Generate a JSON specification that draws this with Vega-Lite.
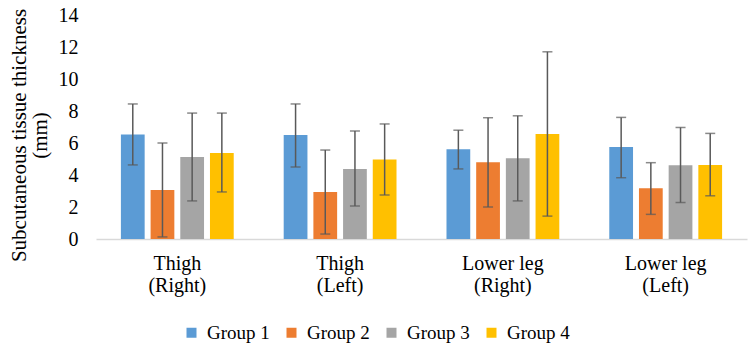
{
  "$schema": "https://vega.github.io/schema/vega-lite/v6.json",
  "autosize": {"type": "none"},
  "width": 651,
  "height": 224,
  "padding": {"left": 96, "top": 15, "right": 3, "bottom": 109},
  "background": "white",
  "config": {
    "view": {"stroke": null},
    "font": "Liberation Serif",
    "axis": {"labelFont": "Liberation Serif", "titleFont": "Liberation Serif", "labelColor": "#000000", "titleColor": "#000000"},
    "axisY": {
      "labelOverlap": false, "labelFlush": false, "labelFontSize": 20, "labelPadding": 18,
      "ticks": false, "domain": false, "grid": false,
      "titleFontSize": 21, "titleFontWeight": "normal", "titlePadding": 8, "titleLineHeight": 21
    },
    "axisX": {
      "labelAngle": 0, "ticks": false, "domainColor": "#D9D9D9", "domainWidth": 1.5,
      "labelFontSize": 20, "labelLineHeight": 22, "labelPadding": 14, "labelBaseline": "top"
    },
    "legend": {"labelFont": "Liberation Serif", "labelFontSize": 19, "labelColor": "#000000"}
  },
  "data": {
    "values": [
      {"site": "Thigh|(Right)", "group": "Group 1", "mean": 6.53, "lo": 4.63, "hi": 8.44},
      {"site": "Thigh|(Right)", "group": "Group 2", "mean": 3.06, "lo": 0.13, "hi": 6.0},
      {"site": "Thigh|(Right)", "group": "Group 3", "mean": 5.12, "lo": 2.38, "hi": 7.87},
      {"site": "Thigh|(Right)", "group": "Group 4", "mean": 5.38, "lo": 2.94, "hi": 7.87},
      {"site": "Thigh|(Left)", "group": "Group 1", "mean": 6.5, "lo": 4.5, "hi": 8.44},
      {"site": "Thigh|(Left)", "group": "Group 2", "mean": 2.94, "lo": 0.31, "hi": 5.56},
      {"site": "Thigh|(Left)", "group": "Group 3", "mean": 4.38, "lo": 2.06, "hi": 6.75},
      {"site": "Thigh|(Left)", "group": "Group 4", "mean": 4.97, "lo": 2.75, "hi": 7.19},
      {"site": "Lower leg|(Right)", "group": "Group 1", "mean": 5.61, "lo": 4.38, "hi": 6.8},
      {"site": "Lower leg|(Right)", "group": "Group 2", "mean": 4.8, "lo": 2.0, "hi": 7.58},
      {"site": "Lower leg|(Right)", "group": "Group 3", "mean": 5.05, "lo": 2.38, "hi": 7.7},
      {"site": "Lower leg|(Right)", "group": "Group 4", "mean": 6.56, "lo": 1.43, "hi": 11.7},
      {"site": "Lower leg|(Left)", "group": "Group 1", "mean": 5.75, "lo": 3.83, "hi": 7.6},
      {"site": "Lower leg|(Left)", "group": "Group 2", "mean": 3.17, "lo": 1.54, "hi": 4.77},
      {"site": "Lower leg|(Left)", "group": "Group 3", "mean": 4.61, "lo": 2.28, "hi": 6.97},
      {"site": "Lower leg|(Left)", "group": "Group 4", "mean": 4.63, "lo": 2.7, "hi": 6.6}
    ]
  },
  "encoding": {
    "x": {
      "field": "site", "type": "nominal",
      "sort": ["Thigh|(Right)", "Thigh|(Left)", "Lower leg|(Right)", "Lower leg|(Left)"],
      "scale": {"paddingInner": 0.307, "paddingOuter": 0.153},
      "axis": {"title": null, "labelExpr": "split(datum.label, '|')"}
    },
    "xOffset": {
      "field": "group", "type": "nominal",
      "scale": {"paddingInner": 0.2, "paddingOuter": 0}
    },
    "y": {
      "field": "mean", "type": "quantitative",
      "scale": {"domain": [0, 14], "nice": false},
      "axis": {
        "values": [0, 2, 4, 6, 8, 10, 12, 14],
        "tickCount": 8,
        "title": ["Subcutaneous tissue thickness", "(mm)"],
        "titleY": 120
      }
    }
  },
  "layer": [
    {
      "mark": {"type": "bar"},
      "encoding": {
        "color": {
          "field": "group", "type": "nominal",
          "scale": {"domain": ["Group 1", "Group 2", "Group 3", "Group 4"],
                    "range": ["#5B9BD5", "#ED7D31", "#A5A5A5", "#FFC000"]},
          "legend": {
            "title": null, "orient": "none", "direction": "horizontal",
            "legendX": 86, "legendY": 308,
            "symbolType": "square", "symbolSize": 100, "symbolStrokeWidth": 0,
            "labelOffset": 6, "columnPadding": 12
          }
        }
      }
    },
    {
      "mark": {"type": "rule", "color": "#595959", "strokeWidth": 1.5},
      "encoding": {
        "y": {"field": "lo", "type": "quantitative"},
        "y2": {"field": "hi"}
      }
    },
    {
      "mark": {"type": "tick", "color": "#595959", "thickness": 1.5, "size": 10, "orient": "horizontal"},
      "encoding": {
        "y": {"field": "lo", "type": "quantitative"}
      }
    },
    {
      "mark": {"type": "tick", "color": "#595959", "thickness": 1.5, "size": 10, "orient": "horizontal"},
      "encoding": {
        "y": {"field": "hi", "type": "quantitative"}
      }
    }
  ]
}
